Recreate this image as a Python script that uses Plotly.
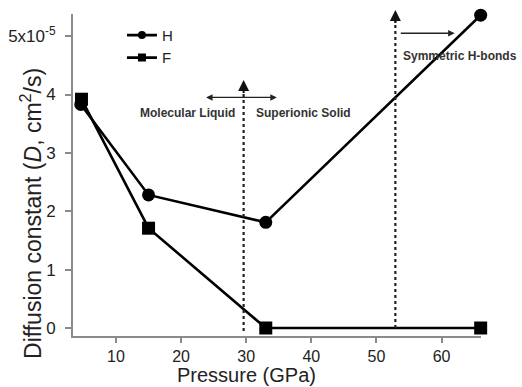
import plotly.graph_objects as go

# Diffusion constants (units of 1e-5 cm^2/s) versus pressure (GPa)
pressure_h = [4.6, 15, 33, 66]
diffusion_h = [3.83, 2.28, 1.81, 5.36]
pressure_f = [4.7, 15, 33, 66]
diffusion_f = [3.92, 1.71, 0.0, 0.0]

# Phase-boundary pressures (GPa)
p_superionic = 29.6
p_symmetric = 52.9

x_ticks = [10, 20, 30, 40, 50, 60]
y_ticks = [0, 1, 2, 3, 4, 5]
y_tick_text = ["0", "1", "2", "3", "4", "5x10<sup>-5</sup>"]

x_range = [3.4, 66.05]
y_range = [-0.137, 5.38]

font_family = "Liberation Sans, Arial, sans-serif"
axis_color = "#8a8a8a"
text_color = "#222"

fig = go.Figure()

fig.add_trace(go.Scatter(
    x=pressure_h, y=diffusion_h, mode="lines+markers", name="H",
    line=dict(color="black", width=2.6),
    marker=dict(symbol="circle", size=13, color="black"),
    cliponaxis=False, showlegend=False,
))
fig.add_trace(go.Scatter(
    x=pressure_f, y=diffusion_f, mode="lines+markers", name="F",
    line=dict(color="black", width=2.6),
    marker=dict(symbol="square", size=13, color="black"),
    cliponaxis=False, showlegend=False,
))

# Compact legend entries with small markers
for name, sym in [("H", "circle"), ("F", "square")]:
    fig.add_trace(go.Scatter(
        x=[None], y=[None], mode="lines+markers", name=name,
        line=dict(color="black", width=2.6),
        marker=dict(symbol=sym, size=8, color="black"),
    ))

# Dotted phase-boundary lines
fig.add_shape(type="line", x0=p_superionic, x1=p_superionic, y0=-0.05, y1=4.1,
              xref="x", yref="y", line=dict(color="#222", width=2.2, dash="dot"))
fig.add_shape(type="line", x0=p_symmetric, x1=p_symmetric, y0=0.0, y1=5.3,
              xref="x", yref="y", line=dict(color="#222", width=2.2, dash="dot"))

# Arrowheads on the dotted lines
for px, ytop in [(p_superionic, 4.25), (p_symmetric, 5.45)]:
    fig.add_annotation(x=px, y=ytop, ax=px, ay=ytop - 0.25, xref="x", yref="y",
                       axref="x", ayref="y", text="", showarrow=True,
                       arrowhead=2, arrowsize=1.1, arrowwidth=2, arrowcolor="#111")

# Double arrow between liquid and superionic regions
fig.add_annotation(x=34.7, y=3.95, ax=23.6, ay=3.95,
                   xref="x", yref="y", axref="x", ayref="y", text="",
                   showarrow=True, arrowhead=2, startarrowhead=2,
                   arrowside="end+start", arrowsize=1, arrowwidth=1.3,
                   arrowcolor="#222")
# Arrow into the symmetric H-bond region
fig.add_annotation(x=62.0, y=5.05, ax=53.5, ay=5.05,
                   xref="x", yref="y", axref="x", ayref="y", text="",
                   showarrow=True, arrowhead=2, arrowsize=1, arrowwidth=1.3,
                   arrowcolor="#222")

label_font = dict(family=font_family, size=12, color="#333", weight="bold")
fig.add_annotation(x=p_superionic, y=3.68, xref="x", yref="y", xshift=-7,
                   text="Molecular Liquid", showarrow=False,
                   xanchor="right", font=label_font)
fig.add_annotation(x=p_superionic, y=3.68, xref="x", yref="y", xshift=10,
                   text="Superionic Solid", showarrow=False,
                   xanchor="left", font=label_font)
fig.add_annotation(x=p_symmetric, y=4.66, xref="x", yref="y", xshift=6,
                   text="Symmetric H-bonds", showarrow=False,
                   xanchor="left", font=label_font)

# Axis titles
fig.add_annotation(x=0, y=0.379, xref="paper", yref="paper", xshift=-42,
                   text="Diffusion constant (<i>D</i>, cm<sup>2</sup>/s)",
                   textangle=-90, showarrow=False, xanchor="center",
                   yanchor="middle",
                   font=dict(family=font_family, size=23, color=text_color))
fig.add_annotation(x=0.426, y=0, xref="paper", yref="paper", yshift=-51,
                   text="Pressure (GPa)", showarrow=False, xanchor="center",
                   yanchor="bottom", borderpad=0,
                   font=dict(family=font_family, size=20, color=text_color))

fig.update_layout(
    width=522, height=387,
    margin=dict(l=73, r=41, t=14, b=51),
    plot_bgcolor="white", paper_bgcolor="white",
    font=dict(family=font_family, color=text_color),
    legend=dict(x=0.12, y=0.985, xanchor="left", yanchor="top",
                bgcolor="rgba(0,0,0,0)", font=dict(size=15),
                tracegroupgap=0, itemwidth=30),
    xaxis=dict(
        range=x_range, tickvals=x_ticks, showline=True, linecolor=axis_color,
        linewidth=2, ticks="outside", ticklen=5, tickwidth=1.5,
        tickcolor=axis_color, showgrid=False, zeroline=False,
        automargin=False, ticklabelstandoff=0,
        tickfont=dict(size=16, color=text_color),
    ),
    yaxis=dict(
        range=y_range, tickvals=y_ticks, ticktext=y_tick_text, showline=True,
        linecolor=axis_color, linewidth=2, ticks="outside", ticklen=6,
        tickwidth=1.5, tickcolor=axis_color, showgrid=False, zeroline=False,
        automargin=False, ticklabelstandoff=6,
        tickfont=dict(size=17, color=text_color),
    ),
)

fig.write_html("out.html")
